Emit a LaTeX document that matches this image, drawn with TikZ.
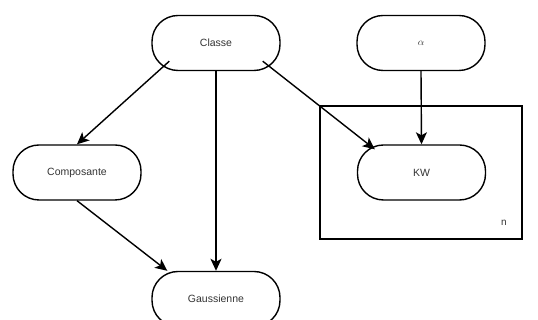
\documentclass[tikz,border=0pt]{standalone}
\usepackage{fontspec}
\setmainfont{Liberation Sans}
\usetikzlibrary{arrows.meta}
\definecolor{txtgrey}{HTML}{333333}
\begin{document}
\begin{tikzpicture}[x=1pt, y=1pt,
        var/.style = {draw, line width=1.4pt, rounded corners=26pt,
            minimum width=128pt, minimum height=55pt, inner sep=0pt,
            font=\fontsize{10.5}{12}\selectfont, text=txtgrey},
        edge/.style = {line width=1.4pt, -{Stealth[length=12pt, width=11pt, inset=3pt]}}]
    \useasboundingbox (0,0) rectangle (538,320);
    % plate
    \draw[line width=1.4pt] (320,81) rectangle (522,214);
    \node[font=\fontsize{10}{12}\selectfont, text=txtgrey] (plate) at (504,97) {n};
    % variables
    \node[var] (classe) at (216,277) {Classe};
    \node[var] (alpha) at (421,277) {\fontsize{10}{12}\selectfont$\alpha$};
    \node[var] (comp) at (77,147.5) {Composante};
    \node[var] (kw) at (421.5,147.5) {KW};
    \node[var] (gauss) at (216,21) {Gaussienne};
    % dependencies
    \draw[edge] ([shift={(18pt,10pt)}]classe.south west) -- (comp.north);
    \draw[edge] (classe.south) -- (gauss.north);
    \draw[edge] ([shift={(-18pt,10pt)}]classe.south east) -- ([shift={(18pt,-5pt)}]kw.north west);
    \draw[edge] (alpha.south) -- (kw.north);
    \draw[edge] (comp.south) -- ([xshift=16pt]gauss.north west);
\end{tikzpicture}
\end{document}
